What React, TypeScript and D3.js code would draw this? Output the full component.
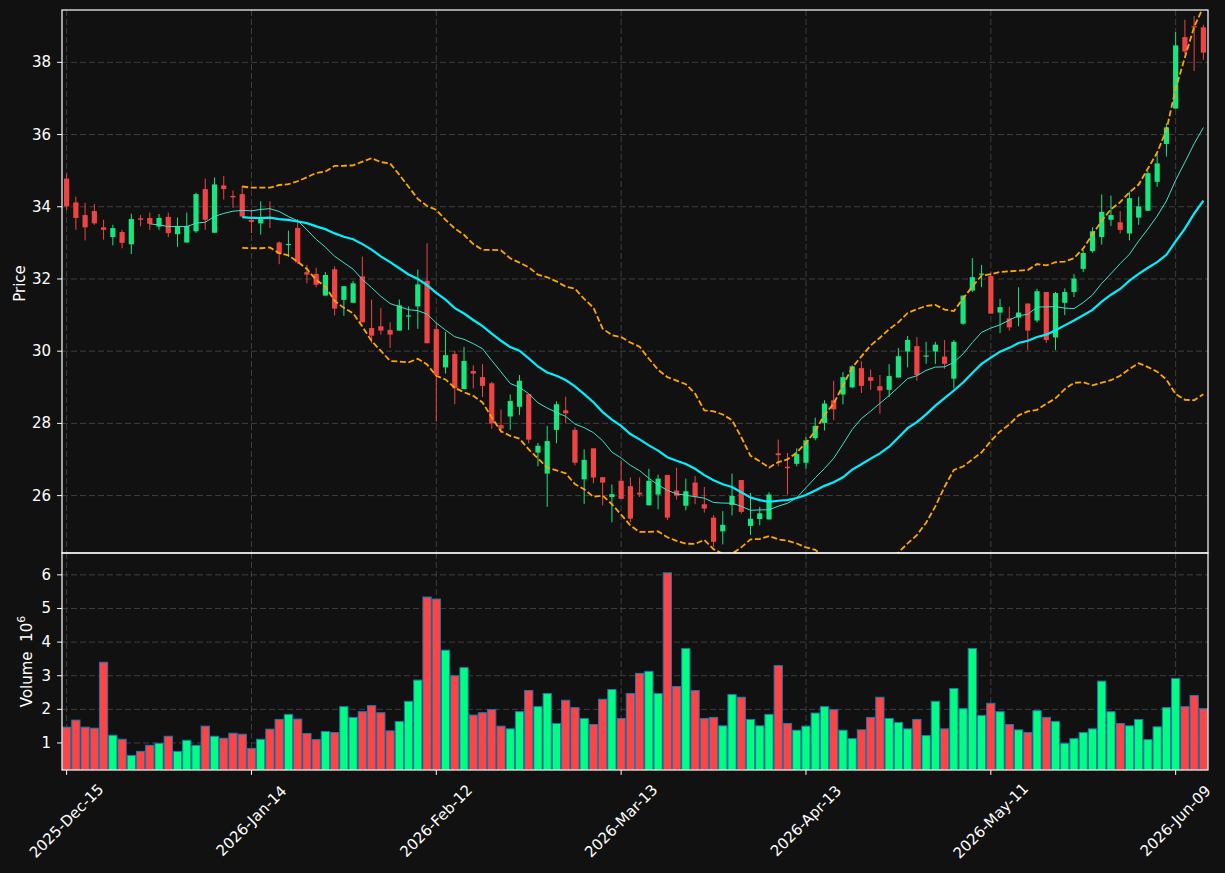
import React from "react";
import * as d3 from "d3";

const opens = [34.78,34.12,33.77,33.88,33.43,33.16,33.30,32.96,33.68,33.69,33.45,33.72,33.24,33.01,33.32,34.49,33.28,34.59,34.30,34.35,
33.64,33.54,33.70,33.01,32.96,33.41,32.19,32.14,31.54,32.27,31.42,31.34,32.07,30.64,30.69,30.59,30.57,30.97,31.24,31.95,
30.61,29.55,29.92,28.95,29.45,29.28,29.11,27.95,28.19,28.46,28.81,27.19,26.61,27.82,28.36,27.82,26.45,27.31,26.51,25.96,
26.41,26.26,26.08,25.73,26.03,26.57,26.14,25.72,26.36,25.76,25.39,25.01,25.74,26.43,25.16,25.35,25.34,27.17,26.80,26.88,
26.91,27.59,28.01,28.64,28.80,29.00,29.53,29.28,29.03,28.93,29.27,29.99,30.14,29.86,29.99,29.85,29.24,30.76,31.68,32.13,
32.08,31.07,30.91,30.93,31.32,30.85,31.64,30.38,31.34,31.64,32.28,32.77,33.16,33.64,33.57,33.26,33.70,33.89,34.69,35.74,
36.72,38.70,39.00,38.97];
const highs = [34.92,34.28,34.11,34.08,33.64,33.50,33.36,33.81,33.77,33.84,33.80,33.84,33.70,33.84,34.39,34.78,34.81,34.85,34.45,34.58,
33.91,34.15,34.15,33.04,33.34,33.66,32.39,32.31,32.19,32.35,31.80,31.95,32.62,31.43,31.20,30.80,31.43,31.24,32.26,32.99,
30.80,30.53,30.01,30.12,29.61,29.64,29.15,28.39,28.80,29.34,28.81,27.46,27.93,28.61,28.74,27.89,27.28,27.31,26.51,26.31,
26.97,26.50,26.50,26.74,26.58,26.57,26.77,26.47,26.54,26.24,25.46,25.57,26.61,26.43,26.07,25.69,26.09,27.55,27.18,27.31,
27.62,28.16,28.64,29.18,29.42,29.61,29.72,29.49,29.34,29.64,30.09,30.42,30.39,30.26,30.26,30.31,30.31,31.54,32.58,32.39,
32.18,31.45,31.23,31.77,31.32,31.73,31.64,31.64,31.74,32.14,32.80,33.43,34.34,34.31,33.88,34.42,34.28,34.99,35.46,36.31,
38.84,39.18,39.28,39.04];
const lows = [33.91,33.36,33.07,33.50,33.09,32.93,32.85,32.69,33.46,33.36,33.36,33.16,32.89,33.01,33.28,33.36,33.28,34.20,33.97,33.73,
33.27,33.23,33.41,32.41,32.61,32.42,31.88,31.77,31.54,30.99,30.98,31.34,30.80,30.22,30.46,30.09,30.57,30.59,30.62,30.22,
28.05,29.38,28.53,28.95,28.97,28.73,27.85,27.74,27.82,28.23,27.45,26.81,25.69,27.45,28.00,26.84,25.77,26.34,25.73,25.26,
25.91,25.26,25.96,25.73,25.62,25.32,25.89,25.59,25.76,25.53,24.58,24.65,25.45,25.50,24.91,25.18,25.34,26.81,26.03,26.81,
26.74,27.53,27.80,28.09,28.53,28.97,28.84,28.93,28.27,28.73,29.27,29.55,29.18,29.65,29.65,29.51,28.97,30.73,31.64,31.77,
31.04,30.50,30.57,30.69,30.03,30.80,30.23,30.03,31.00,31.50,32.19,32.73,32.95,33.47,33.26,33.07,33.50,33.89,34.55,35.39,
36.72,38.23,37.76,38.07];
const closes = [34.01,33.69,33.43,33.54,33.36,33.41,33.00,33.66,33.64,33.53,33.69,33.27,33.46,33.47,34.35,33.64,34.62,34.49,34.26,33.73,
33.58,33.66,33.66,32.69,32.97,32.46,32.12,31.84,32.11,31.18,31.80,31.88,30.80,30.43,30.57,30.46,31.27,30.99,31.85,30.22,
29.34,29.89,28.97,29.73,29.38,29.04,28.00,27.86,28.62,29.18,27.55,27.38,27.51,28.53,28.28,26.91,26.99,26.50,26.36,26.04,
25.91,25.36,26.03,26.41,26.47,25.39,26.00,26.12,25.96,25.64,24.72,25.19,25.99,25.55,25.36,25.51,26.03,27.12,26.76,27.15,
27.53,27.93,28.55,28.39,29.28,29.58,29.04,29.18,28.91,29.31,29.86,30.31,29.34,29.88,30.18,29.65,30.26,31.54,32.05,32.15,
31.04,31.22,30.66,31.07,30.57,31.66,30.31,31.61,31.64,32.01,32.72,33.32,33.86,33.77,33.36,34.24,34.01,34.93,35.20,36.20,
38.47,38.30,38.97,38.27];
const volumes = [1.47,1.68,1.47,1.44,3.40,1.23,1.11,0.63,0.75,0.93,0.99,1.20,0.75,1.08,0.93,1.50,1.20,1.14,1.29,1.26,
0.84,1.11,1.41,1.70,1.85,1.71,1.28,1.10,1.34,1.31,2.08,1.76,1.93,2.11,1.90,1.36,1.64,2.24,2.87,5.34,
5.28,3.76,3.00,3.24,1.83,1.90,1.99,1.50,1.42,1.93,2.56,2.08,2.47,1.58,2.27,2.05,1.73,1.55,2.30,2.59,
1.73,2.47,3.07,3.13,2.47,6.06,2.68,3.81,2.56,1.73,1.76,1.51,2.44,2.36,1.70,1.51,1.85,3.30,1.58,1.38,
1.50,1.89,2.08,1.99,1.38,1.13,1.39,1.76,2.36,1.73,1.61,1.42,1.70,1.22,2.24,1.42,2.62,2.02,3.81,1.82,
2.18,1.93,1.55,1.39,1.31,1.96,1.76,1.64,0.99,1.13,1.31,1.42,2.84,1.93,1.58,1.51,1.70,1.10,1.48,2.05,
2.92,2.08,2.41,2.02];

const tickIndices = [0, 20, 40, 60, 80, 100, 120];
const tickLabels = ["2025-Dec-15", "2026-Jan-14", "2026-Feb-12", "2026-Mar-13", "2026-Apr-13", "2026-May-11", "2026-Jun-09"];
const priceTicks = [26, 28, 30, 32, 34, 36, 38];
const volumeTicks = [1, 2, 3, 4, 5, 6];

const W = 1225, H = 873;
const L = 62, R = 1208, PT = 10, PB = 553, VB = 770;
const BG = "#111111";
const UP = "#17e57f", DOWN = "#ef4444";
const VUP = "#00ff80", VDOWN = "#ff4444";
const FONT = "'DejaVu Sans', sans-serif";
const FS = 15;

function sma(arr: number[], n: number): (number | null)[] {
  return arr.map((_, i) => (i < n - 1 ? null : (d3.mean(arr.slice(i - n + 1, i + 1)) as number)));
}
function band(arr: number[], n: number, k: number, sign: number): (number | null)[] {
  return arr.map((_, i) => {
    if (i < n - 1) return null;
    const w = arr.slice(i - n + 1, i + 1);
    return (d3.mean(w) as number) + sign * k * (d3.deviation(w) as number);
  });
}

export default function App() {
  const n = closes.length;
  const x = d3.scaleLinear().domain([-0.5, n - 0.5]).range([L, R]);
  const y = d3.scaleLinear().domain([24.41, 39.45]).range([PB, PT]);
  const yv = d3.scaleLinear().domain([0.196, 6.65]).range([VB, PB]);
  const step = x(1) - x(0);

  const ma10 = sma(closes, 10);
  const ma20 = sma(closes, 20);
  const up = band(closes, 20, 2, 1);
  const lo = band(closes, 20, 2, -1);

  const line = d3
    .line<number | null>()
    .defined((d) => d != null)
    .x((_, i) => x(i))
    .y((d) => y(d as number));

  const gridColor = "#444444";

  return (
    <svg width={W} height={H} style={{ position: "fixed", left: 0, top: 0, display: "block" }} fontFamily={FONT}>
      <defs>
        <clipPath id="pclip">
          <rect x={L} y={PT} width={R - L} height={PB - PT} />
        </clipPath>
        <clipPath id="vclip">
          <rect x={L} y={PB} width={R - L} height={VB - PB} />
        </clipPath>
      </defs>
      <rect x={0} y={0} width={W} height={H} fill={BG} />

      {priceTicks.map((t) => (
        <line key={"pg" + t} x1={L} x2={R} y1={y(t)} y2={y(t)} stroke={gridColor} strokeWidth={0.9} strokeDasharray="6,3" />
      ))}
      {volumeTicks.map((t) => (
        <line key={"vg" + t} x1={L} x2={R} y1={yv(t)} y2={yv(t)} stroke={gridColor} strokeWidth={0.9} strokeDasharray="6,3" />
      ))}
      {tickIndices.map((t) => (
        <g key={"xg" + t}>
          <line x1={x(t)} x2={x(t)} y1={PT} y2={PB} stroke={gridColor} strokeWidth={0.9} strokeDasharray="6,3" />
          <line x1={x(t)} x2={x(t)} y1={PB} y2={VB} stroke={gridColor} strokeWidth={0.9} strokeDasharray="6,3" />
        </g>
      ))}

      <g clipPath="url(#pclip)">
        {closes.map((c, i) => {
          const o = opens[i];
          const isUp = c >= o;
          const col = isUp ? UP : DOWN;
          const top = y(Math.max(o, c));
          const bot = y(Math.min(o, c));
          return (
            <g key={"c" + i}>
              <line x1={x(i)} x2={x(i)} y1={y(highs[i])} y2={y(lows[i])} stroke={col} strokeWidth={1} />
              <rect x={x(i) - 2.6} y={top} width={5.2} height={Math.max(bot - top, 1.2)} fill={col} />
            </g>
          );
        })}
        <path d={line(ma10) || ""} fill="none" stroke="#40e0d0" strokeWidth={1} />
        <path d={line(ma20) || ""} fill="none" stroke="#00f0ff" strokeWidth={2.2} />
        <path d={line(up) || ""} fill="none" stroke="#ffa500" strokeWidth={1.8} strokeDasharray="6,2.6" />
        <path d={line(lo) || ""} fill="none" stroke="#ffa500" strokeWidth={1.8} strokeDasharray="6,2.6" />
      </g>

      <g clipPath="url(#vclip)">
        {volumes.map((v, i) => {
          const isUp = closes[i] >= opens[i];
          return (
            <rect
              key={"v" + i}
              x={x(i) - step / 2 + 0.5}
              y={yv(v)}
              width={step - 1}
              height={VB - yv(v) + 2}
              fill={isUp ? VUP : VDOWN}
              stroke="#1f77b4"
              strokeWidth={1}
            />
          );
        })}
      </g>

      <rect x={L} y={PT} width={R - L} height={PB - PT} fill="none" stroke="#ffffff" strokeWidth={1.2} />
      <rect x={L} y={PB} width={R - L} height={VB - PB} fill="none" stroke="#ffffff" strokeWidth={1.2} />

      {priceTicks.map((t) => (
        <g key={"pt" + t}>
          <line x1={L - 4.9} x2={L} y1={y(t)} y2={y(t)} stroke="#ffffff" strokeWidth={1} />
          <text x={L - 11} y={y(t)} fill="#ffffff" fontSize={FS} textAnchor="end" dominantBaseline="central">
            {t}
          </text>
        </g>
      ))}
      {volumeTicks.map((t) => (
        <g key={"vt" + t}>
          <line x1={L - 4.9} x2={L} y1={yv(t)} y2={yv(t)} stroke="#ffffff" strokeWidth={1} />
          <text x={L - 11} y={yv(t)} fill="#ffffff" fontSize={FS} textAnchor="end" dominantBaseline="central">
            {t}
          </text>
        </g>
      ))}

      {tickIndices.map((t, k) => (
        <g key={"xt" + t}>
          <line x1={x(t)} x2={x(t)} y1={VB} y2={VB + 4.9} stroke="#ffffff" strokeWidth={1} />
          <text
            transform={`translate(${x(t)},${821}) rotate(-45)`}
            fill="#ffffff"
            fontSize={FS}
            textAnchor="middle"
            dominantBaseline="central"
          >
            {tickLabels[k]}
          </text>
        </g>
      ))}

      <text transform={`translate(25,${(PT + PB) / 2 + 2}) rotate(-90)`} fill="#ffffff" fontSize={FS} textAnchor="middle">
        Price
      </text>
      <text transform={`translate(32,${(PB + VB) / 2}) rotate(-90)`} fill="#ffffff" fontSize={FS} textAnchor="middle" xmlSpace="preserve">
        Volume  10<tspan fontSize={11} dy={-7}>6</tspan>
      </text>
    </svg>
  );
}
